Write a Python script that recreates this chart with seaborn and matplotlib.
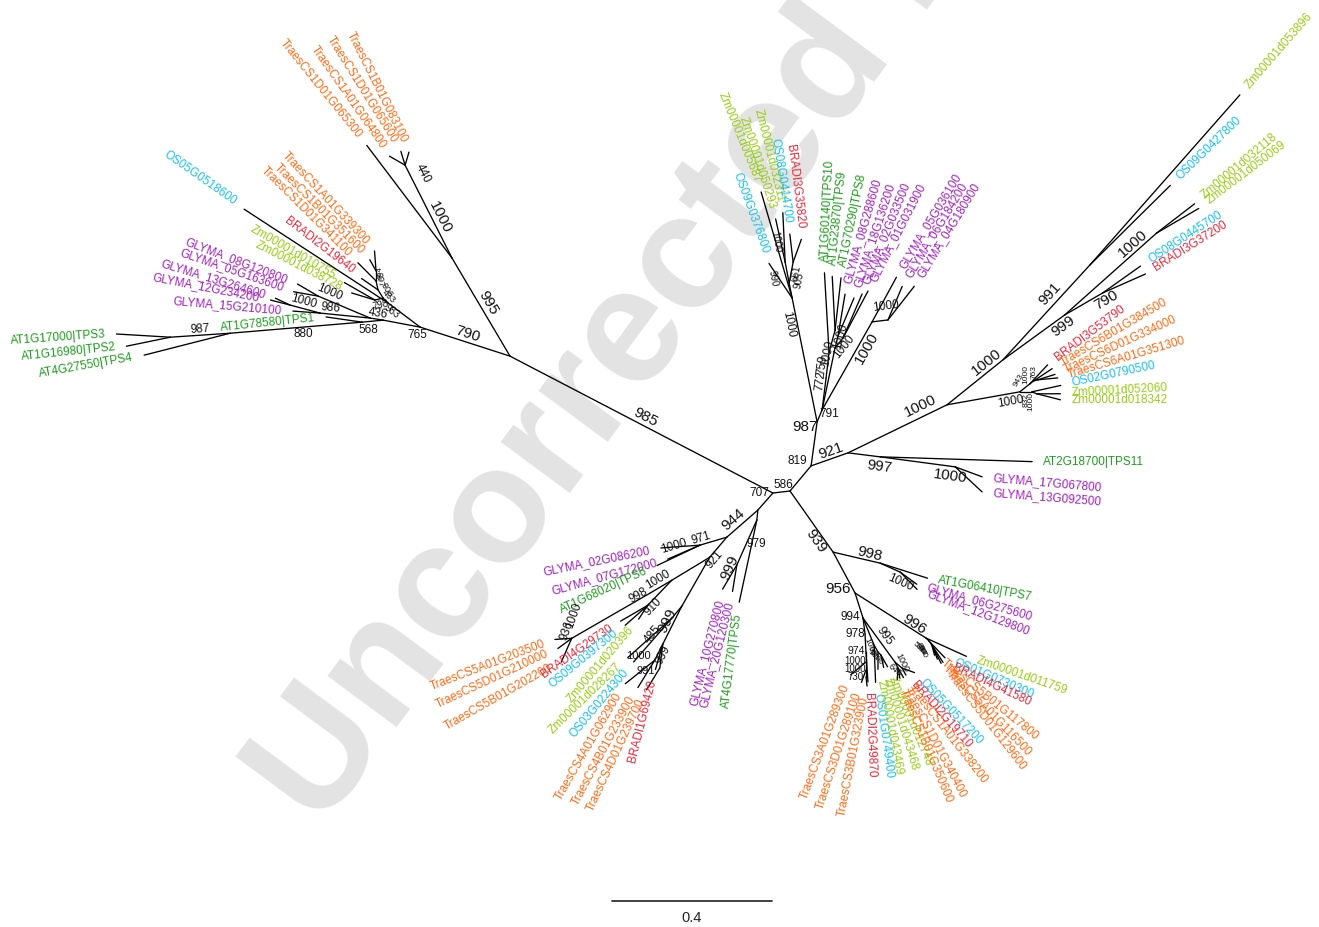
import numpy as np
import pandas as pd
import matplotlib
matplotlib.use("Agg")
import matplotlib.pyplot as plt
import seaborn as sns

PX = 400.0          # figure pixels per unit of branch length
LAB_GAP = 0.0275    # gap between tip and its label

# tree edges: (node, parent, branch length, direction in degrees)
edges = [
    ("n707", "n586", 0.043, 186.7),
    ("nC", "n707", 0.741, 152.5),
    ("nD1", "nC", 0.285, 120.6),
    ("nD2", "nD1", 0.26, 116.8),
    ("TraesCS1B01G083100", "nD2", 0.034, 73.5),
    ("TraesCS1D01G065600", "nD2", 0.036, 107),
    ("TraesCS1A01G064800", "nD2", 0.045, 150),
    ("TraesCS1D01G065300", "nD1", 0.353, 127.1),
    ("nE1", "nC", 0.236, 162.1),
    ("nF1", "nE1", 0.10, 143.1),
    ("OS05G0518600", "nF1", 0.43, 146.9),
    ("nL1", "nF1", 0.018, 135),
    ("nL2", "nL1", 0.021, 194),
    ("Zm00001d010755", "nL2", 0.088, 150.2),
    ("Zm00001d038728", "nL2", 0.061, 163),
    ("nL3", "nL1", 0.024, 122),
    ("BRADI2G19640", "nL3", 0.05, 145.3),
    ("nL4", "nL3", 0.023, 102.5),
    ("TraesCS1D01G341100", "nL4", 0.064, 135),
    ("nL5", "nL4", 0.025, 90),
    ("TraesCS1A01G339300", "nL5", 0.05, 94.3),
    ("TraesCS1B01G351600", "nL5", 0.032, 119),
    ("nH0", "nE1", 0.094, 169.3),
    ("nK1", "nH0", 0.033, 171),
    ("nK2", "nK1", 0.141, 157.1),
    ("GLYMA_08G120800", "nK2", 0.06, 149.7),
    ("GLYMA_05G163600", "nK2", 0.0625, 169.9),
    ("nK3", "nK1", 0.126, 174.3),
    ("nK4", "nK3", 0.078, 165),
    ("GLYMA_13G264600", "nK4", 0.04, 154.9),
    ("GLYMA_12G234200", "nK4", 0.05, 165.7),
    ("GLYMA_15G210100", "nK3", 0.068, 175.8),
    ("nH1", "nH0", 0.053, 185.4),
    ("AT1G78580|TPS1", "nH1", 0.091, 171.8),
    ("nI1", "nH1", 0.331, 184.8),
    ("nI2", "nI1", 0.15, 183.8),
    ("AT1G17000|TPS3", "nI2", 0.135, 176.6),
    ("AT1G16980|TPS2", "nI2", 0.112, 191.6),
    ("AT4G27550|TPS4", "nI1", 0.222, 194.3),
    # upper right
    ("nH", "n586", 0.082, 50),
    ("nI", "nH", 0.111, 82.2),
    ("nJ", "nH", 0.098, 19.4),
    ("nK", "nJ", 0.275, 25.9),
    ("nM", "nJ", 0.081, -7.1),
    ("AT2G18700|TPS11", "nM", 0.38, -1.8),
    ("nM2", "nM", 0.189, -7.6),
    ("GLYMA_17G067800", "nM2", 0.072, -20.3),
    ("GLYMA_13G092500", "nM2", 0.092, -42.9),
    ("nP", "nK", 0.18, 38.8),
    ("nR", "nP", 0.322, 47.5),
    ("Zm00001d053896", "nR", 0.566, 48.6),
    ("OS09G0427800", "nR", 0.282, 44.7),
    ("nS", "nP", 0.19, 36),
    ("nT", "nS", 0.308, 41.7),
    ("Zm00001d032118", "nT", 0.12, 37.6),
    ("Zm00001d050069", "nT", 0.122, 30.3),
    ("nU", "nS", 0.11, 30.1),
    ("OS08G0445700", "nU", 0.116, 35.4),
    ("BRADI3G37200", "nU", 0.117, 23.9),
    ("nQ", "nK", 0.185, 10.1),
    ("nq1", "nQ", 0.032, 38.7),
    ("BRADI3G53790", "nq1", 0.065, 46.9),
    ("nq2", "nq1", 0.0125, 36.9),
    ("TraesCS6B01G384500", "nq2", 0.055, 33.6),
    ("nq3", "nq2", 0.0103, 14),
    ("TraesCS6D01G334000", "nq3", 0.045, 17.6),
    ("TraesCS6A01G351300", "nq3", 0.05, 5.5),
    ("nq4", "nQ", 0.03, 0),
    ("OS02G0790500", "nq4", 0.074, 12.5),
    ("nq5", "nq4", 0.0135, -21.8),
    ("Zm00001d052060", "nq5", 0.059, 0.2),
    ("Zm00001d018342", "nq5", 0.061, -14.2),
    # upper middle
    ("nV", "nI", 0.316, 101.4),
    ("Zm00001d005687", "nV", 0.276, 106.3),
    ("OS09G0376800", "nV", 0.104, 123.8),
    ("nW", "nV", 0.038, 101.3),
    ("nW1", "nW", 0.053, 100.8),
    ("Zm00001d050293", "nW1", 0.111, 102.4),
    ("Zm00001d032311", "nW1", 0.124, 92.7),
    ("nW2", "nW", 0.053, 79.2),
    ("OS08G0414700", "nW2", 0.071, 96.7),
    ("BRADI3G35820", "nW2", 0.061, 70.2),
    ("nX", "nI", 0.0325, 67.4),
    ("nY", "nX", 0.08, 82.9),
    ("nY1", "nY", 0.065, 83.4),
    ("AT1G60140|TPS10", "nY1", 0.199, 93.3),
    ("nY2", "nY1", 0.057, 74.7),
    ("AT1G23870|TPS9", "nY2", 0.135, 93),
    ("AT1G70290|TPS8", "nY2", 0.132, 83.5),
    ("nZ", "nX", 0.158, 78.2),
    ("nZ1", "nZ", 0.031, 76),
    ("GLYMA_08G288600", "nZ1", 0.106, 80.5),
    ("GLYMA_18G136200", "nZ1", 0.103, 67.2),
    ("nZ2", "nZ", 0.032, 51.3),
    ("GLYMA_02G033500", "nZ2", 0.12, 66.6),
    ("GLYMA_01G031900", "nZ2", 0.133, 62),
    ("nAA", "nX", 0.253, 60.4),
    ("GLYMA_05G036100", "nAA", 0.127, 61.4),
    ("nAB", "nAA", 0.04, 7),
    ("GLYMA_06G184200", "nAB", 0.091, 67),
    ("GLYMA_04G180900", "nAB", 0.107, 52),
    # lower left
    ("nD", "n707", 0.057, 228.6),
    ("nE", "nD", 0.103, 221.1),
    ("nE1g", "nE", 0.07, 196.5),
    ("GLYMA_02G086200", "nE1g", 0.098, 184.1),
    ("GLYMA_07G172000", "nE1g", 0.088, 203.5),
    ("AT1G68020|TPS6", "nE1g", 0.119, 205.4),
    ("nF", "nE", 0.066, 229.6),
    ("nG", "nF", 0.111, 211.2),
    ("nG2", "nG", 0.064, 210.6),
    ("nG3", "nG2", 0.225, 210),
    ("TraesCS5A01G203500", "nG3", 0.042, 183.8),
    ("TraesCS5D01G210000", "nG3", 0.043, 216.3),
    ("TraesCS5B01G202200", "nG3", 0.065, 246.2),
    ("nG5", "nG", 0.087, 226.2),
    ("BRADI4G29730", "nG5", 0.078, 210.2),
    ("OS09G0397300", "nG5", 0.075, 221.6),
    ("Zm00001d020396", "nG5", 0.041, 236.8),
    ("nb0", "nF", 0.141, 240.3),
    ("nb1", "nb0", 0.039, 230.2),
    ("Zm00001d028267", "nb1", 0.148, 221.8),
    ("OS03G0224300", "nb1", 0.145, 228.9),
    ("nb", "nb0", 0.106, 243.4),
    ("nb2", "nb", 0.045, 243.4),
    ("TraesCS4A01G062900", "nb2", 0.094, 218.5),
    ("TraesCS4B01G233900", "nb2", 0.08, 238.4),
    ("nb3", "nb", 0.06, 262.9),
    ("TraesCS4D01G239700", "nb3", 0.064, 238.7),
    ("BRADI1G69420", "nb", 0.066, 253.9),
    ("nDt", "nD", 0.025, 264.3),
    ("nDu", "nDt", 0.123, 246),
    ("GLYMA_10G270800", "nDu", 0.07, 239.5),
    ("GLYMA_20G120300", "nDu", 0.067, 260.7),
    ("AT4G17770|TPS5", "nDt", 0.21, 257.9),
    # lower right
    ("nT1", "n586", 0.187, -54.8),
    ("nT2", "nT1", 0.121, -13.2),
    ("AT1G06410|TPS7", "nT2", 0.124, -17.6),
    ("nT3", "nT2", 0.055, -24.2),
    ("GLYMA_06G275600", "nT3", 0.051, -36.2),
    ("GLYMA_12G129800", "nT3", 0.06, -45.7),
    ("nT4", "nT1", 0.116, -61.8),
    ("nT5", "nT4", 0.21, -32.4),
    ("Zm00001d011759", "nT5", 0.111, -24.4),
    ("nT6", "nT5", 0.0106, -45),
    ("OS01G0730300", "nT6", 0.058, -46.4),
    ("nT7", "nT6", 0.008, -51.3),
    ("BRADI4G41580", "nT7", 0.056, -57.4),
    ("nT8", "nT7", 0.0056, -63.4),
    ("TraesCS5B01G117800", "nT8", 0.025, -75.4),
    ("nT9", "nT8", 0.0056, -63.4),
    ("TraesCS5A01G116500", "nT9", 0.031, -69.2),
    ("TraesCS5D01G129600", "nT9", 0.0445, -62.6),
    ("nT10", "nT4", 0.066, -72.3),
    ("nT11", "nT10", 0.04, -83),
    ("nT12", "nT11", 0.045, -87),
    ("BRADI2G49870", "nT12", 0.075, -86.2),
    ("nT13", "nT12", 0.025, -90),
    ("TraesCS3A01G289300", "nT13", 0.05, 219.9),
    ("nT14", "nT13", 0.02, -90),
    ("TraesCS3D01G289100", "nT14", 0.033, 249.8),
    ("nT15", "nT14", 0.0175, -90),
    ("TraesCS3B01G323900", "nT15", 0.023, -83),
    ("nT16", "nT10", 0.073, -67.8),
    ("OS01G0749400", "nT16", 0.093, -87.7),
    ("nT17", "nT16", 0.02, -60.3),
    ("Zm00001d043469", "nT17", 0.043, -90.3),
    ("nT17b", "nT17", 0.01, -45),
    ("Zm00001d043468", "nT17b", 0.032, -77.4),
    ("Zm00001d012748", "nT17b", 0.034, -60.6),
    ("nT18", "nT10", 0.136, -54),
    ("nT19", "nT18", 0.017, -63),
    ("TraesCS1A01G338200", "nT19", 0.027, -60.3),
    ("TraesCS1D01G340400", "nT19", 0.026, -80),
    ("TraesCS1B01G350600", "nT19", 0.03, -95),
    ("nT20", "nT18", 0.023, -40),
    ("BRADI2G19710", "nT20", 0.02, -61.5),
    ("OS05G0517200", "nT20", 0.033, -20),
]

# direction of each tip label (degrees)
label_angle = {
    "TraesCS1B01G083100": 116.6, "TraesCS1D01G065600": 122, "TraesCS1A01G064800": 125,
    "TraesCS1D01G065300": 129, "OS05G0518600": 145,
    "TraesCS1A01G339300": 133, "TraesCS1B01G351600": 135, "TraesCS1D01G341100": 135.3,
    "BRADI2G19640": 142.4, "Zm00001d010755": 150, "Zm00001d038728": 153,
    "GLYMA_08G120800": 159, "GLYMA_05G163600": 161, "GLYMA_13G264600": 163,
    "GLYMA_12G234200": 169, "GLYMA_15G210100": 175,
    "AT1G78580|TPS1": 186, "AT1G17000|TPS3": 184, "AT1G16980|TPS2": 186, "AT4G27550|TPS4": 190,
    "AT2G18700|TPS11": 0, "GLYMA_17G067800": -5, "GLYMA_13G092500": -4.5,
    "Zm00001d053896": 49, "OS09G0427800": 44, "Zm00001d032118": 40, "Zm00001d050069": 37,
    "OS08G0445700": 33, "BRADI3G37200": 32,
    "BRADI3G53790": 37, "TraesCS6B01G384500": 30.5, "TraesCS6D01G334000": 24.7,
    "TraesCS6A01G351300": 16.5, "OS02G0790500": 12, "Zm00001d052060": 3, "Zm00001d018342": 0,
    "Zm00001d005687": 112, "OS09G0376800": 110, "Zm00001d050293": 108, "Zm00001d032311": 104,
    "OS08G0414700": 99, "BRADI3G35820": 97,
    "AT1G60140|TPS10": 87, "AT1G23870|TPS9": 84, "AT1G70290|TPS8": 78,
    "GLYMA_08G288600": 74, "GLYMA_18G136200": 72, "GLYMA_02G033500": 68, "GLYMA_01G031900": 63,
    "GLYMA_05G036100": 59, "GLYMA_06G184200": 59, "GLYMA_04G180900": 58.6,
    "GLYMA_02G086200": 191.6, "GLYMA_07G172000": 195.4, "AT1G68020|TPS6": 204.8,
    "TraesCS5A01G203500": 200.9, "TraesCS5D01G210000": 205, "TraesCS5B01G202200": 209.6,
    "BRADI4G29730": 214.8, "OS09G0397300": 219.2, "Zm00001d020396": 229.5,
    "Zm00001d028267": 224, "OS03G0224300": 230.2, "TraesCS4A01G062900": 240,
    "TraesCS4B01G233900": 242, "TraesCS4D01G239700": 245, "BRADI1G69420": 256,
    "GLYMA_10G270800": 255.8, "GLYMA_20G120300": 256, "AT4G17770|TPS5": 262.7,
    "AT1G06410|TPS7": -10.5, "GLYMA_06G275600": -15.7, "GLYMA_12G129800": -20.6,
    "Zm00001d011759": -19, "OS01G0730300": -23, "BRADI4G41580": -25,
    "TraesCS5B01G117800": -39, "TraesCS5A01G116500": -46, "TraesCS5D01G129600": -52,
    "TraesCS3A01G289300": 249.6, "TraesCS3D01G289100": 251.8, "TraesCS3B01G323900": 259,
    "BRADI2G49870": -88, "OS01G0749400": -82, "Zm00001d043469": -79,
    "Zm00001d043468": -73, "Zm00001d012748": -67,
    "TraesCS1A01G338200": -52, "TraesCS1D01G340400": -62, "TraesCS1B01G350600": -67,
    "BRADI2G19710": -48.6, "OS05G0517200": -46.4,
}

# bootstrap values: (node, value, font size, position along branch, side offset px, rotation)
support = [
    ("n707", "586", 8.5, 0.35, -7, 0), ("nD", "707", 8.5, 0.4, -10, 0),
    ("nC", "985", 11, 0.5, -8, None), ("nD1", "995", 11, 0.5, -8, None),
    ("nD2", "1000", 11, 0.4, -8, None), ("nD2", "440", 8.5, 0.85, -12, None),
    ("nE1", "790", 11, 0.5, -8, None), ("nF1", "983", 7, 0.8, 5, None),
    ("nL1", "433", 6.5, 0.5, -5, None), ("nL2", "798", 7, 0.5, 6, None),
    ("nL3", "906", 6.5, 0.5, -7, None), ("nL4", "997", 6.5, 1.0, -4, None),
    ("nL5", "464", 5.5, 0.8, -4, None), ("nH0", "765", 8.5, 0.05, 8, 0),
    ("nK1", "436", 8.5, 0.5, -6, None), ("nK2", "1000", 8.5, 0.85, -8, None),
    ("nK3", "986", 8.5, 0.8, -6, None), ("nK4", "1000", 8.5, 0.6, -7, None),
    ("nH1", "568", 8.5, 0.75, 8, 0), ("nI1", "880", 8.5, 0.45, 7, 0),
    ("nI2", "987", 8.5, 0.5, -6, None),
    ("nH", "819", 8.5, 0.85, 14, 0), ("nI", "987", 11, 0.85, 11, 0),
    ("nJ", "921", 11, 0.6, 8, None), ("nK", "1000", 11, 0.78, 10, None),
    ("nM2", "997", 11, 0.0, -10, None), ("nM2", "1000", 11, 0.95, -10, None),
    ("nP", "1000", 11, 0.8, 8, None), ("nR", "991", 11, 0.62, 10, None),
    ("nS", "999", 11, 0.9, -8, None), ("nT", "1000", 11, 0.8, 8, None),
    ("nU", "790", 11, 1.0, -8, None), ("nQ", "1000", 8.5, 0.85, -8, None),
    ("nq1", "943", 6, 0.5, 10, 60), ("nq2", "1000", 6, 0.5, 10, 90),
    ("nq3", "763", 6, 0.5, 9, 90), ("nq4", "832", 6, 0.5, -8, 90),
    ("nq5", "1000", 6, 0.5, -9, 90),
    ("nV", "1000", 8.5, 0.8, 9, None), ("nW", "990", 7, 1.5, 15, None),
    ("nW1", "1000", 7, 2.0, 5, None), ("nW2", "661", 7, 0.5, -5, None),
    ("nW2", "905", 7, 0.2, -9, None), ("nX", "791", 8.5, 0.9, -8, 0),
    ("nY", "772", 8.5, 0.9, 5, None), ("nY1", "759", 8.5, 0.5, 5, None),
    ("nY2", "1000", 8.5, 0.8, -7, None), ("nZ", "1000", 8.5, 0.9, 6, None),
    ("nZ2", "1000", 8.5, 0.5, -6, None), ("nAA", "1000", 11, 0.75, -8, None),
    ("nAB", "1000", 8.5, 1.0, 14, None),
    ("nE", "944", 11, 0.6, -9, None), ("nE1g", "971", 8.5, 0.9, -6, None),
    ("nE1g", "1000", 8.5, 1.9, -6, None), ("nF", "921", 8.5, 0.95, 5, None),
    ("nG2", "1000", 8.5, 0.45, -7, None), ("nG3", "998", 8.5, 0.12, -4, None),
    ("nG3", "1000", 8.5, 0.85, -19, 70), ("nG3", "936", 8.5, 1.0, -9, 70),
    ("nG5", "910", 8.5, 0.9, 5, None), ("nb", "999", 11, 0.45, -6, None),
    ("nb1", "485", 8.5, 2.6, -4, None), ("nb2", "999", 8.5, 0.5, 5, None),
    ("nb2", "1000", 8, 1.2, -16, 0), ("nb3", "991", 8, 1.2, -14, 0),
    ("nDu", "979", 8.5, 0.45, 9, 0), ("nDu", "999", 11, 1.1, -5, None),
    ("nT1", "939", 11, 0.75, -8, None), ("nT2", "998", 11, 0.75, 7, None),
    ("nT3", "1000", 8.5, 1.2, -10, None), ("nT4", "956", 11, 0.75, -13, 0),
    ("nT5", "996", 11, 0.8, 5, None),
    ("nT6", "596", 6, 0.5, -12, None), ("nT7", "934", 6, 0.5, -12, None),
    ("nT8", "997", 6, 0.5, -12, None), ("nT9", "960", 6, 0.5, -12, None),
    ("nT10", "994", 8.5, 0.8, -12, 0), ("nT11", "978", 8.5, 0.9, -10, 0),
    ("nT12", "974", 7.5, 0.9, -10, 0), ("nT13", "1000", 7, 0.9, -11, 0),
    ("nT14", "1000", 7, 0.9, -11, 0), ("nT15", "730", 7, 1.0, -10, 0),
    ("nT16", "1000", 6, 1.0, -5, None), ("nT17", "995", 6, 0.8, -6, None),
    ("nT17b", "1000", 6, 0.5, -6, None), ("nT18", "995", 8.5, 0.5, 7, None),
    ("nT19", "1000", 6.5, 0.5, 6, None), ("nT20", "645", 6.5, 0.5, -6, None),
]

species_colors = {"AT": "#1e9e1e", "GLYMA": "#a020c0", "Traes": "#ff6a14",
                  "BRADI": "#e8283a", "OS": "#16c0f0", "Zm": "#98cc14"}

scale_len = 0.4

# lay out the tree from branch lengths and directions
pos = {"n586": (0.0, 0.0)}
ang = {}
par = {}
rows = []
for i, (node, parent, length, a) in enumerate(edges):
    x0, y0 = pos[parent]
    r = np.radians(a)
    x1, y1 = x0 + length * np.cos(r), y0 + length * np.sin(r)
    pos[node], ang[node], par[node] = (x1, y1), a, parent
    rows.append({"edge": i, "x": x0, "y": y0})
    rows.append({"edge": i, "x": x1, "y": y1})
seg = pd.DataFrame(rows)
parents = set(par.values())
tips = [n for n, _, _, _ in edges if n not in parents]


def readable(a):
    a = (a + 180) % 360 - 180
    if -90 < a <= 90:
        return a, "left"
    return (a - 180 if a > 0 else a + 180), "right"


sns.set_theme(style="white")
plt.rcParams["font.family"] = ["Liberation Sans", "DejaVu Sans"]

fig = plt.figure(figsize=(13.19, 9.27), dpi=100)
ax = fig.add_axes([0, 0, 1, 1])

# watermark
ax.text(-0.19, 0.66, "Uncorrected Proof", rotation=53.5, rotation_mode="anchor",
        ha="center", va="center", fontsize=118, fontweight="bold",
        color="#e3e3e3", zorder=0, clip_on=True)

sns.lineplot(data=seg, x="x", y="y", units="edge", estimator=None, sort=False,
             color="black", lw=0.95, ax=ax, legend=False, zorder=2)

for t in tips:
    a = label_angle.get(t, ang[t])
    r = np.radians(a)
    x, y = pos[t]
    rot, ha = readable(a)
    col = next(c for k, c in species_colors.items() if t.startswith(k))
    ax.text(x + LAB_GAP * np.cos(r), y + LAB_GAP * np.sin(r), t, rotation=rot,
            rotation_mode="anchor", ha=ha, va="center", fontsize=8.5, color=col, zorder=3)

for node, val, size, t, off, rot in support:
    x0, y0 = pos[par[node]]
    x1, y1 = pos[node]
    r = np.radians(ang[node])
    x = x0 + t * (x1 - x0) - off / PX * np.sin(r)
    y = y0 + t * (y1 - y0) + off / PX * np.cos(r)
    if rot is None:
        rot = readable(ang[node])[0]
    ax.text(x, y, val, rotation=rot, rotation_mode="anchor", ha="center", va="center",
            fontsize=size, color="#111111", zorder=3)

# scale bar
bar = pd.DataFrame({"x": [-0.445, -0.445 + scale_len], "y": [-1.025, -1.025]})
sns.lineplot(data=bar, x="x", y="y", color="#333333", lw=1.3, ax=ax, legend=False)
ax.text(-0.445 + scale_len / 2, -1.0675, "0.4", ha="center", va="center", fontsize=10.5,
        color="#222222")

ax.set_xlim(-790 / PX, 529 / PX)
ax.set_ylim(-436 / PX, 491 / PX)
ax.set_axis_off()

fig.savefig("out.png", dpi=100)
